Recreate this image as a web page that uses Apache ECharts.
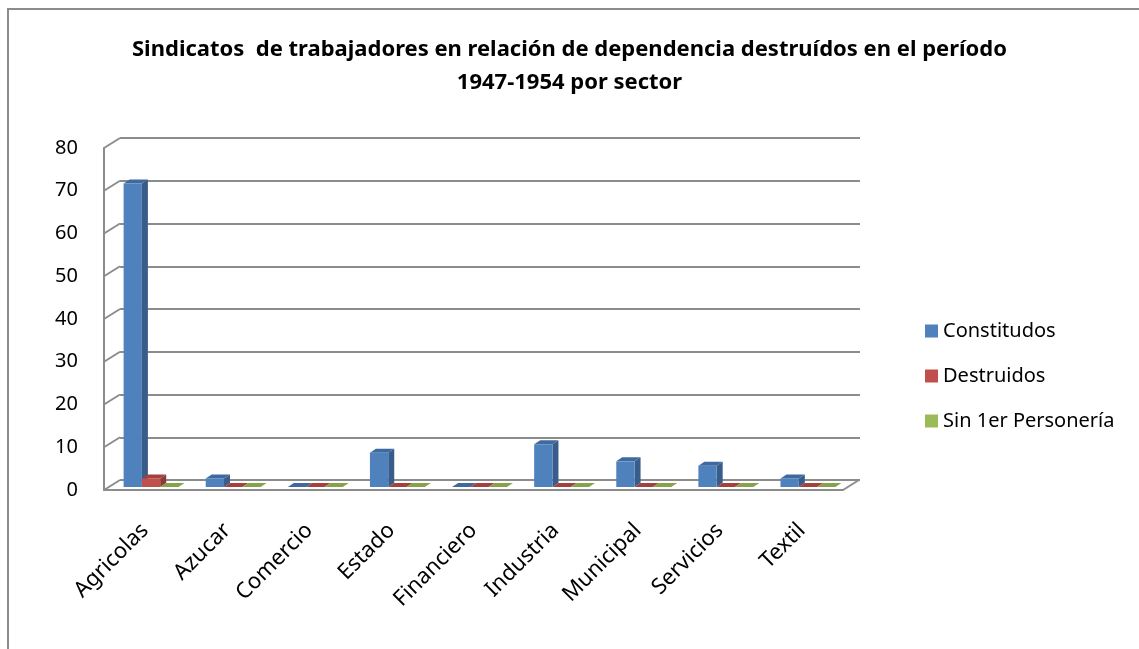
<!DOCTYPE html>
<html>
<head>
<meta charset="utf-8">
<script src="https://cdn.jsdelivr.net/npm/echarts@6/dist/echarts.min.js"></script>
<style>
  html, body { margin: 0; padding: 0; background: #fff; }
  #chart { width: 1139px; height: 649px; }
</style>
</head>
<body>
<div id="chart"></div>
<script>
var categories = ['Agricolas', 'Azucar', 'Comercio', 'Estado', 'Financiero', 'Industria', 'Municipal', 'Servicios', 'Textil'];
var constituidos = [71, 2, 0, 8, 0, 10, 6, 5, 2];
var destruidos = [2, 0, 0, 0, 0, 0, 0, 0, 0];
var sinPersoneria = [0, 0, 0, 0, 0, 0, 0, 0, 0];
var yTicks = [0, 10, 20, 30, 40, 50, 60, 70, 80];
var titleLines = ['Sindicatos  de trabajadores en relación de dependencia destruídos en el período', '1947-1954 por sector'];

var FONT = '"Noto Sans", "Open Sans", sans-serif';
var GRID_COLOR = '#8c8c8c';
var BAR_W = 18.3;   // ancho de cada barra
var DEPTH_X = 6, DEPTH_Y = 4;   // profundidad de la barra
var OFF_X = 6, OFF_Y = 3;       // barras a media profundidad
var WALL_X = 16, WALL_Y = 10;   // profundidad de la pared

var chart = echarts.init(document.getElementById('chart'));

function makeBar(k, front, side, top) {
  return function (params, api) {
    var base = api.coord([api.value(0), 0]);
    var tip = api.coord([api.value(0), api.value(1)]);
    var x0 = base[0] - 1.5 * BAR_W + OFF_X + k * BAR_W;
    var x1 = x0 + BAR_W;
    var yb = base[1] - OFF_Y;
    var yt = tip[1] - OFF_Y;
    var children = [];
    children.push({
      type: 'polygon',
      shape: { points: [[x1, yt], [x1 + DEPTH_X, yt - DEPTH_Y], [x1 + DEPTH_X, yb - DEPTH_Y], [x1, yb]] },
      style: { fill: side }
    });
    children.push({
      type: 'polygon',
      shape: { points: [[x0, yt], [x1, yt], [x1 + DEPTH_X, yt - DEPTH_Y], [x0 + DEPTH_X, yt - DEPTH_Y]] },
      style: { fill: top }
    });
    if (yb - yt > 0.5) {
      children.push({
        type: 'rect',
        shape: { x: x0, y: yt, width: BAR_W, height: yb - yt },
        style: { fill: front }
      });
    }
    return { type: 'group', children: children };
  };
}

function renderWall(params, api) {
  var cs = params.coordSys;
  var y = api.coord([0, api.value(0)])[1];
  var lines = [{
    type: 'line',
    shape: { x1: cs.x, y1: y, x2: cs.x + WALL_X, y2: y - WALL_Y },
    style: { stroke: GRID_COLOR, lineWidth: 2 }
  }];
  if (api.value(0) === 0) {
    lines.push({
      type: 'line',
      shape: { x1: cs.x + cs.width, y1: y, x2: cs.x + cs.width + WALL_X, y2: y - WALL_Y },
      style: { stroke: GRID_COLOR, lineWidth: 2 }
    });
  }
  return { type: 'group', children: lines };
}

function pairs(arr) {
  return arr.map(function (v, i) { return [i, v]; });
}

var titleStyle = { fontFamily: FONT, fontSize: 22, fontWeight: 'bold', color: '#000' };

var option = {
  backgroundColor: '#fff',
  animation: false,
  textStyle: { fontFamily: FONT },
  title: [
    { text: titleLines[0], left: 'center', top: 34, textStyle: titleStyle },
    { text: titleLines[1], left: 'center', top: 67, textStyle: titleStyle }
  ],
  legend: {
    orient: 'vertical',
    left: 925,
    top: 321,
    padding: 0,
    itemWidth: 13,
    itemHeight: 13,
    itemGap: 25,
    icon: 'rect',
    textStyle: { fontFamily: FONT, fontSize: 20, color: '#000' },
    data: ['Constitudos', 'Destruidos', 'Sin 1er Personería']
  },
  graphic: [{
    type: 'rect',
    shape: { x: 8, y: 9, width: 1140, height: 700 },
    style: { fill: 'none', stroke: '#8c8c8c', lineWidth: 2 },
    z: -1
  }],
  grid: [
    { left: 104, top: 148, width: 739, height: 342 },
    { left: 120, top: 138, width: 740, height: 342 }
  ],
  xAxis: [{
    type: 'category',
    gridIndex: 0,
    data: categories,
    axisLine: { show: true, lineStyle: { color: GRID_COLOR, width: 2 } },
    axisTick: { show: false },
    axisLabel: { rotate: 45, fontSize: 22, color: '#000', margin: 37, fontFamily: FONT }
  }, {
    type: 'category',
    gridIndex: 1,
    data: categories,
    show: false
  }],
  yAxis: [{
    type: 'value',
    gridIndex: 0,
    min: 0,
    max: 80,
    interval: 10,
    axisLine: { show: true, lineStyle: { color: GRID_COLOR, width: 2 } },
    axisTick: { show: false },
    splitLine: { show: false },
    axisLabel: { fontSize: 20, color: '#000', margin: 26, fontFamily: FONT }
  }, {
    type: 'value',
    gridIndex: 1,
    min: 0,
    max: 80,
    interval: 10,
    axisLine: { show: false },
    axisTick: { show: false },
    axisLabel: { show: false },
    splitLine: { show: true, lineStyle: { color: GRID_COLOR, width: 2 } }
  }],
  series: [{
    type: 'custom',
    name: 'pared',
    xAxisIndex: 0,
    yAxisIndex: 0,
    renderItem: renderWall,
    data: yTicks.map(function (v) { return [v]; }),
    encode: { y: 0 },
    silent: true,
    z: 1
  }, {
    type: 'custom',
    name: 'Constitudos',
    xAxisIndex: 0,
    yAxisIndex: 0,
    itemStyle: { color: '#4F81BD' },
    renderItem: makeBar(0, '#4F81BD', '#385D8A', '#3F6A9F'),
    data: pairs(constituidos),
    encode: { x: 0, y: 1 },
    z: 3
  }, {
    type: 'custom',
    name: 'Destruidos',
    xAxisIndex: 0,
    yAxisIndex: 0,
    itemStyle: { color: '#C0504D' },
    renderItem: makeBar(1, '#C0504D', '#8C3A38', '#A3413E'),
    data: pairs(destruidos),
    encode: { x: 0, y: 1 },
    z: 4
  }, {
    type: 'custom',
    name: 'Sin 1er Personería',
    xAxisIndex: 0,
    yAxisIndex: 0,
    itemStyle: { color: '#9BBB59' },
    renderItem: makeBar(2, '#9BBB59', '#728A41', '#86A34B'),
    data: pairs(sinPersoneria),
    encode: { x: 0, y: 1 },
    z: 5
  }]
};

chart.setOption(option);
</script>
</body>
</html>
